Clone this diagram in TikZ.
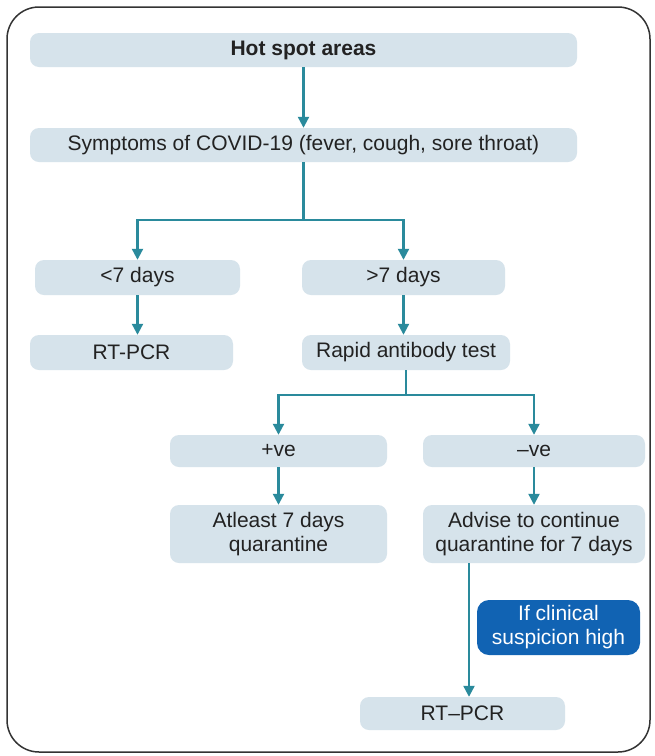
\documentclass[tikz,border=0pt]{standalone}
\usepackage{fontspec}
\setmainfont{Liberation Sans}
\usetikzlibrary{arrows.meta}
\definecolor{boxc}{HTML}{D6E3EB}
\definecolor{teal}{HTML}{2A8A9C}
\definecolor{bluebox}{HTML}{1163B3}
\definecolor{txt}{HTML}{222222}
\begin{document}
\begin{tikzpicture}[x=1pt,y=-1pt,
  bx/.style={fill=boxc, rounded corners=9pt, inner sep=0pt, align=center, text=txt, font=\fontsize{21}{24}\selectfont},
  ln/.style={draw=teal, line width=2.2pt},
  arr/.style={ln, -{Triangle[length=11pt,width=11pt]}},
  bb/.style={fill=bluebox, rounded corners=12pt, inner sep=0pt, align=center, text=white, font=\fontsize{21}{24}\selectfont}]
\useasboundingbox (0,0) rectangle (655,756);
\fill[white] (0,0) rectangle (655,756);
\draw[draw=black!80, line width=1.5pt, rounded corners=32pt] (7,7) rectangle (650,752);

\node[bx, minimum width=547pt, minimum height=34pt, font=\bfseries\fontsize{21}{24}\selectfont] (hot) at (303.5,50) {Hot spot areas};
\node[bx, minimum width=547pt, minimum height=34pt] (sym) at (303.5,145) {Symptoms of COVID-19 (fever, cough, sore throat)};
\node[bx, minimum width=205pt, minimum height=35pt] (lt7) at (137.5,277.5) {<7 days};
\node[bx, minimum width=203pt, minimum height=35pt] (gt7) at (403.5,277.5) {>7 days};
\node[bx, minimum width=203pt, minimum height=35pt] (rt1) at (131.5,352.5) {RT-PCR};
\node[bx, minimum width=208pt, minimum height=35pt] (rab) at (406,352.5) {Rapid antibody test};
\node[bx, minimum width=217pt, minimum height=32pt] (pos) at (278.5,451) {+ve};
\node[bx, minimum width=222pt, minimum height=32pt] (neg) at (534,451) {--ve};
\node[bx, minimum width=217pt, minimum height=58pt] (atl) at (278.5,534) {Atleast 7 days\\quarantine};
\node[bx, minimum width=222pt, minimum height=58pt] (adv) at (534,534) {Advise to continue\\quarantine for 7 days};
\node[bx, minimum width=205pt, minimum height=33pt] (rt2) at (462.5,713.5) {RT--PCR};
\node[bb, minimum width=163pt, minimum height=55pt] (clin) at (558.5,627.5) {If clinical\\suspicion high};

\draw[arr] (hot.south) -- (sym.north);
\coordinate (j1) at (303.5,220);
\draw[ln] (sym.south) -- (j1);
\draw[arr] (j1) -| (lt7.north);
\draw[arr] (j1) -| (gt7.north);
\draw[arr] (lt7.south) -- (lt7.south |- rt1.north);
\draw[arr] (gt7.south) -- (gt7.south |- rab.north);
\coordinate (j2) at (406,395);
\draw[ln] (rab.south) -- (j2);
\draw[arr] (j2) -| (pos.north);
\draw[arr] (j2) -| (neg.north);
\draw[arr] (pos.south) -- (atl.north);
\draw[arr] (neg.south) -- (adv.north);
\coordinate (a) at (469,563);
\draw[arr] (a) -- (a |- rt2.north);
\end{tikzpicture}
\end{document}
